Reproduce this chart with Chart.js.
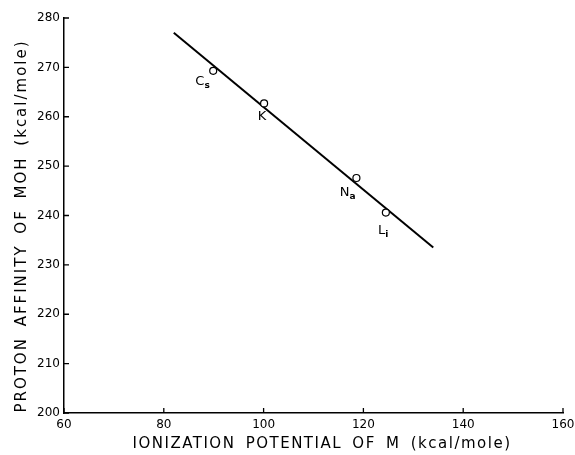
<!DOCTYPE html>
<html lang="en">
<head>
    <meta charset="UTF-8">
    <title>Proton affinity vs ionization potential</title>
    <script src="https://cdn.jsdelivr.net/npm/chart.js"></script>
    <style>
        html, body { margin: 0; padding: 0; background: #fff; }
        #wrap { width: 575px; height: 455px; }
    </style>
</head>
<body>
    <div id="wrap"><canvas id="chart"></canvas></div>

    <script>
        // measured points (kcal/mole)
        const ionization = [89.9, 100.1, 118.6, 124.5];
        const protonAffinity = [269.3, 262.7, 247.6, 240.6];
        const metalMain = ['C', 'K', 'N', 'L'];
        const metalSub = ['s', '', 'a', 'i'];

        // fitted straight line
        const fitX = [82, 134];
        const fitY = [277.0, 233.5];

        const xTicks = [60, 80, 100, 120, 140, 160];
        const yTicks = [200, 210, 220, 230, 240, 250, 260, 270, 280];

        const xTitle = 'IONIZATION POTENTIAL OF M (kcal/mole)';
        const yTitle = 'PROTON AFFINITY OF MOH (kcal/mole)';

        const font = '"DejaVu Sans", sans-serif';

        // inward tick marks, point labels with subscripts, axis titles
        const decorations = {
            id: 'decorations',
            afterDraw(chart) {
                const ctx = chart.ctx;
                const xs = chart.scales.x, ys = chart.scales.y;
                const area = chart.chartArea;
                ctx.save();
                ctx.strokeStyle = '#000';
                ctx.lineWidth = 1.3;
                ctx.beginPath();
                xTicks.forEach(v => {
                    const px = xs.getPixelForValue(v);
                    ctx.moveTo(px, area.bottom);
                    ctx.lineTo(px, area.bottom - 5);
                });
                yTicks.forEach(v => {
                    const py = ys.getPixelForValue(v);
                    ctx.moveTo(area.left, py);
                    ctx.lineTo(area.left + 5, py);
                });
                ctx.stroke();

                // element labels, offset below-left of each point
                const offsets = [[-11, 11], [-2, 13], [-9, 15], [-3, 18]];
                ctx.fillStyle = '#000';
                ctx.textBaseline = 'middle';
                ctx.textAlign = 'left';
                ionization.forEach((v, i) => {
                    const px = xs.getPixelForValue(v) + offsets[i][0];
                    const py = ys.getPixelForValue(protonAffinity[i]) + offsets[i][1];
                    ctx.font = '13px ' + font;
                    const w = ctx.measureText(metalMain[i]).width;
                    ctx.font = '9px ' + font;
                    const ws = ctx.measureText(metalSub[i]).width;
                    const x0 = px - (w + ws) / 2;
                    ctx.font = '13px ' + font;
                    ctx.fillText(metalMain[i], x0, py);
                    if (metalSub[i]) {
                        ctx.font = 'bold 9px ' + font;
                        ctx.fillText(metalSub[i], x0 + w, py + 4);
                    }
                });

                // axis titles
                ctx.font = '15px ' + font;
                ctx.letterSpacing = '1.5px';
                ctx.wordSpacing = '4px';
                ctx.textAlign = 'center';
                ctx.fillText(xTitle, 322, 444);
                ctx.letterSpacing = '2px';
                ctx.translate(22, 226);
                ctx.rotate(-Math.PI / 2);
                ctx.fillText(yTitle, 0, 0);
                ctx.restore();
            }
        };

        const ctx = document.getElementById('chart').getContext('2d');
        new Chart(ctx, {
            data: {
                datasets: [
                    {
                        type: 'scatter',
                        data: ionization.map((x, i) => ({ x: x, y: protonAffinity[i] })),
                        pointRadius: 3.5,
                        pointBorderWidth: 1.2,
                        pointBorderColor: '#000',
                        pointBackgroundColor: '#fff'
                    },
                    {
                        type: 'line',
                        data: fitX.map((x, i) => ({ x: x, y: fitY[i] })),
                        borderColor: '#000',
                        borderWidth: 2,
                        pointRadius: 0,
                        fill: false
                    }
                ]
            },
            options: {
                responsive: true,
                maintainAspectRatio: false,
                animation: false,
                layout: { padding: { left: 0, right: 0, top: 18, bottom: 0 } },
                plugins: {
                    legend: { display: false },
                    tooltip: { enabled: false }
                },
                scales: {
                    x: {
                        type: 'linear',
                        min: 60,
                        max: 160,
                        afterFit: s => { s.height = 42; s.paddingRight = 12; s.paddingLeft = 0; },
                        afterBuildTicks: s => { s.ticks = xTicks.map(v => ({ value: v })); },
                        grid: { display: false, drawTicks: false },
                        border: { display: true, color: '#000', width: 1.5 },
                        ticks: {
                            padding: 5,
                            color: '#000',
                            maxRotation: 0,
                            font: { family: font, size: 12 }
                        }
                    },
                    y: {
                        type: 'linear',
                        min: 200,
                        max: 280,
                        afterFit: s => { s.width = 64; },
                        afterBuildTicks: s => { s.ticks = yTicks.map(v => ({ value: v })); },
                        grid: { display: false, drawTicks: false },
                        border: { display: true, color: '#000', width: 1.5 },
                        ticks: {
                            padding: 4,
                            color: '#000',
                            font: { family: font, size: 12 }
                        }
                    }
                }
            },
            plugins: [decorations]
        });
    </script>
</body>
</html>
